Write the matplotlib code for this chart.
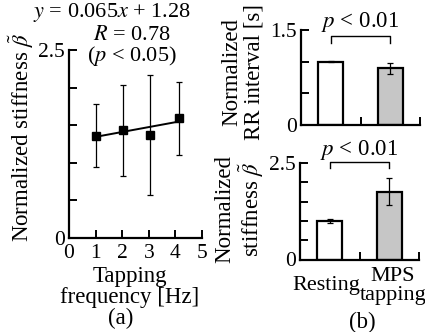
import numpy as np
import matplotlib
matplotlib.use("Agg")
import matplotlib.pyplot as plt

plt.rcParams["font.family"] = ["Liberation Serif", "DejaVu Serif"]
plt.rcParams["mathtext.fontset"] = "stix"

# (a) stiffness vs tapping frequency
freq = [1.0, 2.03, 3.06, 4.15]
stiff_mean = [1.36, 1.43, 1.37, 1.59]
stiff_err = [0.42, 0.60, 0.80, 0.49]
slope, intercept, r_value = 0.065, 1.28, 0.78

# (b) resting vs MPS tapping
groups = ["Resting", "MPS\ntapping"]
rr_mean = [1.0, 0.895]
rr_err = [0.005, 0.09]
beta_mean = [1.0, 1.76]
beta_err = [0.06, 0.36]
bar_colors = ["white", "#c6c6c6"]

W, H = 425, 332
FS = 16.5     # label text
TFS = 15.5    # tick labels


def px(x, y):
    return x / W, 1 - y / H


def style_axes(ax):
    ax.spines["top"].set_visible(False)
    ax.spines["right"].set_visible(False)
    for s in ("left", "bottom"):
        ax.spines[s].set_linewidth(1.6)
    ax.tick_params(direction="in", length=5.5, width=1.4, labelsize=TFS, pad=3)


fig = plt.figure(figsize=(W / 100, H / 100), dpi=100)

# ---- panel (a)
axa = fig.add_axes([69 / W, 1 - 238 / H, 133 / W, 188 / H])
style_axes(axa)
axa.tick_params(axis="x", pad=4)
axa.errorbar(freq, stiff_mean, yerr=stiff_err, fmt="s", color="black",
             ms=6, elinewidth=0.9, capsize=2, capthick=0.9)
xf = np.array([freq[0], freq[-1]])
axa.plot(xf, slope * xf + intercept, color="black", lw=1.4)
axa.set_xlim(0, 5)
axa.set_ylim(0, 2.5)
axa.set_xticks(range(6))
axa.set_yticks(np.arange(0, 2.51, 0.5))
axa.set_yticklabels(["0", "", "", "", "", "2.5"])

fig.text(*px(112, 13), f"$y$ = {slope}$x$ + {intercept}", ha="center", va="center", fontsize=16)
fig.text(*px(132, 47), f"$R$ = {r_value}\n($p$ < 0.05)", ha="center", va="center",
         fontsize=16, linespacing=0.95)
fig.text(*px(21, 137), r"Normalized stiffness $\tilde{\beta}$", rotation=90,
         ha="center", va="center", fontsize=FS)
fig.text(*px(130, 287), "Tapping\nfrequency [Hz]", ha="center", va="center",
         fontsize=FS, linespacing=1.0)
fig.text(*px(121, 318), "(a)", ha="center", va="center", fontsize=FS)

# ---- panel (b)
xpos = np.arange(len(groups)) + 0.5


def bar_panel(rect, means, errs, top, br_y, txt_y):
    ax = fig.add_axes(rect)
    style_axes(ax)
    ax.bar(xpos, means, width=0.42, color=bar_colors, edgecolor="black", linewidth=1.6)
    ax.errorbar(xpos, means, yerr=errs, fmt="none", ecolor="black",
                elinewidth=0.9, capsize=2, capthick=0.9)
    ax.set_xlim(0, 2)
    ax.set_ylim(0, top)
    ax.set_xticks([0, 1, 2])
    ax.set_xticklabels([])
    ax.set_yticks(np.arange(0, top + 0.01, 0.5))
    labels = [""] * len(ax.get_yticks())
    labels[0], labels[-1] = "0", f"{top}"
    ax.set_yticklabels(labels)
    # significance bracket
    ax.plot([xpos[0], xpos[0], xpos[1], xpos[1]],
            [br_y - 0.07 * top, br_y, br_y, br_y - 0.07 * top],
            color="black", lw=1.0, clip_on=False)
    ax.text(1.0, txt_y, "$p$ < 0.01", ha="center", va="center", fontsize=FS,
            clip_on=False)
    return ax


axb1 = bar_panel([301 / W, 1 - 125 / H, 119 / W, 95 / H], rr_mean, rr_err, 1.5,
                 1.405, 1.63)
axb2 = bar_panel([300 / W, 1 - 259.5 / H, 119 / W, 96.5 / H], beta_mean, beta_err, 2.5,
                 2.535, 2.84)

for x, g, dx in zip(xpos, groups, (-2.5, 2.5)):
    axb2.annotate(g, xy=(x, 0), xycoords=("data", "axes fraction"),
                  xytext=(dx, -19), textcoords="offset points",
                  ha="center", va="center", fontsize=16, linespacing=0.95)

fig.text(*px(243, 72), "Normalized\nRR interval [s]", rotation=90,
         ha="center", va="center", fontsize=FS, linespacing=1.05)
fig.text(*px(240, 209), "Normalized\n" + r"stiffness $\tilde{\beta}$", rotation=90,
         ha="center", va="center", fontsize=FS, linespacing=1.05)
fig.text(*px(362, 322), "(b)", ha="center", va="center", fontsize=FS)

fig.savefig("out.png", dpi=100)
